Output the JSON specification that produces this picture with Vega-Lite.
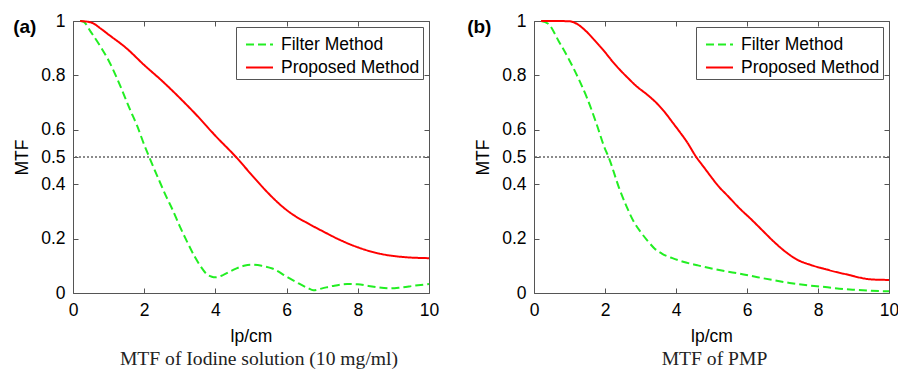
{
  "$schema": "https://vega.github.io/schema/vega-lite/v6.json",
  "padding": {"left": 13, "top": 11, "right": 0, "bottom": 0},
  "config": {
    "font": "Liberation Sans",
    "view": {"stroke": "#555", "strokeWidth": 1},
    "axis": {"domain": false, "grid": false, "labelFlush": false, "tickColor": "#555", "tickSize": -5, "labelFont": "Liberation Sans", "labelFontSize": 17.5, "labelColor": "#000", "titleFont": "Liberation Sans", "titleFontSize": 17.5, "titleFontWeight": "normal", "titleColor": "#000"},
    "legend": {"orient": "top-right", "offset": 6, "padding": 3, "fillColor": "white", "strokeColor": "#555", "symbolType": "stroke", "symbolSize": 729, "symbolOffset": 6, "symbolStrokeWidth": 2, "labelFontSize": 17.5, "labelFont": "Liberation Sans", "labelColor": "#000", "rowPadding": 0, "labelOffset": 7}
  },
  "datasets": {
    "a": [
      {"x":0.2,"y":1.0,"method":"Filter Method"},{"x":0.3,"y":0.997,"method":"Filter Method"},{"x":0.5,"y":0.96,"method":"Filter Method"},{"x":0.8,"y":0.9,"method":"Filter Method"},{"x":1.0,"y":0.855,"method":"Filter Method"},{"x":1.3,"y":0.77,"method":"Filter Method"},{"x":1.6,"y":0.675,"method":"Filter Method"},{"x":1.8,"y":0.615,"method":"Filter Method"},{"x":2.0,"y":0.545,"method":"Filter Method"},{"x":2.14,"y":0.5,"method":"Filter Method"},{"x":2.4,"y":0.42,"method":"Filter Method"},{"x":2.6,"y":0.36,"method":"Filter Method"},{"x":2.8,"y":0.305,"method":"Filter Method"},{"x":3.0,"y":0.245,"method":"Filter Method"},{"x":3.2,"y":0.19,"method":"Filter Method"},{"x":3.4,"y":0.138,"method":"Filter Method"},{"x":3.6,"y":0.095,"method":"Filter Method"},{"x":3.75,"y":0.07,"method":"Filter Method"},{"x":3.9,"y":0.06,"method":"Filter Method"},{"x":4.0,"y":0.058,"method":"Filter Method"},{"x":4.2,"y":0.065,"method":"Filter Method"},{"x":4.5,"y":0.085,"method":"Filter Method"},{"x":4.8,"y":0.1,"method":"Filter Method"},{"x":5.0,"y":0.104,"method":"Filter Method"},{"x":5.3,"y":0.1,"method":"Filter Method"},{"x":5.6,"y":0.09,"method":"Filter Method"},{"x":6.0,"y":0.06,"method":"Filter Method"},{"x":6.3,"y":0.038,"method":"Filter Method"},{"x":6.6,"y":0.018,"method":"Filter Method"},{"x":6.75,"y":0.01,"method":"Filter Method"},{"x":7.0,"y":0.017,"method":"Filter Method"},{"x":7.3,"y":0.026,"method":"Filter Method"},{"x":7.7,"y":0.033,"method":"Filter Method"},{"x":8.0,"y":0.032,"method":"Filter Method"},{"x":8.3,"y":0.026,"method":"Filter Method"},{"x":8.6,"y":0.02,"method":"Filter Method"},{"x":8.9,"y":0.017,"method":"Filter Method"},{"x":9.2,"y":0.02,"method":"Filter Method"},{"x":9.6,"y":0.027,"method":"Filter Method"},{"x":10.0,"y":0.033,"method":"Filter Method"},
      {"x":0.2,"y":1.0,"method":"Proposed Method"},{"x":0.5,"y":0.995,"method":"Proposed Method"},{"x":0.8,"y":0.97,"method":"Proposed Method"},{"x":1.0,"y":0.95,"method":"Proposed Method"},{"x":1.5,"y":0.9,"method":"Proposed Method"},{"x":2.0,"y":0.838,"method":"Proposed Method"},{"x":2.5,"y":0.78,"method":"Proposed Method"},{"x":3.0,"y":0.717,"method":"Proposed Method"},{"x":3.5,"y":0.65,"method":"Proposed Method"},{"x":4.0,"y":0.578,"method":"Proposed Method"},{"x":4.6,"y":0.497,"method":"Proposed Method"},{"x":5.0,"y":0.437,"method":"Proposed Method"},{"x":5.5,"y":0.365,"method":"Proposed Method"},{"x":5.75,"y":0.333,"method":"Proposed Method"},{"x":6.0,"y":0.305,"method":"Proposed Method"},{"x":6.25,"y":0.282,"method":"Proposed Method"},{"x":6.5,"y":0.263,"method":"Proposed Method"},{"x":7.0,"y":0.228,"method":"Proposed Method"},{"x":7.5,"y":0.195,"method":"Proposed Method"},{"x":8.0,"y":0.168,"method":"Proposed Method"},{"x":8.6,"y":0.145,"method":"Proposed Method"},{"x":9.3,"y":0.132,"method":"Proposed Method"},{"x":10.0,"y":0.128,"method":"Proposed Method"}
    ],
    "b": [
      {"x":0.2,"y":1.0,"method":"Filter Method"},{"x":0.4,"y":0.99,"method":"Filter Method"},{"x":0.7,"y":0.925,"method":"Filter Method"},{"x":1.0,"y":0.855,"method":"Filter Method"},{"x":1.3,"y":0.775,"method":"Filter Method"},{"x":1.5,"y":0.715,"method":"Filter Method"},{"x":1.75,"y":0.626,"method":"Filter Method"},{"x":2.0,"y":0.53,"method":"Filter Method"},{"x":2.1,"y":0.5,"method":"Filter Method"},{"x":2.4,"y":0.385,"method":"Filter Method"},{"x":2.6,"y":0.32,"method":"Filter Method"},{"x":2.8,"y":0.265,"method":"Filter Method"},{"x":3.0,"y":0.225,"method":"Filter Method"},{"x":3.2,"y":0.192,"method":"Filter Method"},{"x":3.4,"y":0.163,"method":"Filter Method"},{"x":3.6,"y":0.145,"method":"Filter Method"},{"x":3.9,"y":0.128,"method":"Filter Method"},{"x":4.2,"y":0.115,"method":"Filter Method"},{"x":4.6,"y":0.102,"method":"Filter Method"},{"x":5.0,"y":0.09,"method":"Filter Method"},{"x":5.4,"y":0.08,"method":"Filter Method"},{"x":5.8,"y":0.071,"method":"Filter Method"},{"x":6.3,"y":0.058,"method":"Filter Method"},{"x":6.8,"y":0.046,"method":"Filter Method"},{"x":7.2,"y":0.037,"method":"Filter Method"},{"x":7.7,"y":0.028,"method":"Filter Method"},{"x":8.2,"y":0.022,"method":"Filter Method"},{"x":8.6,"y":0.016,"method":"Filter Method"},{"x":9.0,"y":0.012,"method":"Filter Method"},{"x":9.5,"y":0.008,"method":"Filter Method"},{"x":10.0,"y":0.006,"method":"Filter Method"},
      {"x":0.2,"y":1.0,"method":"Proposed Method"},{"x":0.6,"y":1.0,"method":"Proposed Method"},{"x":1.0,"y":0.999,"method":"Proposed Method"},{"x":1.2,"y":0.99,"method":"Proposed Method"},{"x":1.47,"y":0.962,"method":"Proposed Method"},{"x":1.7,"y":0.93,"method":"Proposed Method"},{"x":1.94,"y":0.895,"method":"Proposed Method"},{"x":2.2,"y":0.853,"method":"Proposed Method"},{"x":2.41,"y":0.822,"method":"Proposed Method"},{"x":2.65,"y":0.79,"method":"Proposed Method"},{"x":2.88,"y":0.761,"method":"Proposed Method"},{"x":3.2,"y":0.728,"method":"Proposed Method"},{"x":3.44,"y":0.7,"method":"Proposed Method"},{"x":3.7,"y":0.662,"method":"Proposed Method"},{"x":3.91,"y":0.626,"method":"Proposed Method"},{"x":4.1,"y":0.593,"method":"Proposed Method"},{"x":4.29,"y":0.559,"method":"Proposed Method"},{"x":4.57,"y":0.5,"method":"Proposed Method"},{"x":4.8,"y":0.46,"method":"Proposed Method"},{"x":5.0,"y":0.425,"method":"Proposed Method"},{"x":5.2,"y":0.392,"method":"Proposed Method"},{"x":5.45,"y":0.358,"method":"Proposed Method"},{"x":5.8,"y":0.31,"method":"Proposed Method"},{"x":6.11,"y":0.272,"method":"Proposed Method"},{"x":6.45,"y":0.228,"method":"Proposed Method"},{"x":6.77,"y":0.187,"method":"Proposed Method"},{"x":7.1,"y":0.15,"method":"Proposed Method"},{"x":7.42,"y":0.122,"method":"Proposed Method"},{"x":7.8,"y":0.103,"method":"Proposed Method"},{"x":8.17,"y":0.089,"method":"Proposed Method"},{"x":8.55,"y":0.076,"method":"Proposed Method"},{"x":8.92,"y":0.065,"method":"Proposed Method"},{"x":9.2,"y":0.056,"method":"Proposed Method"},{"x":9.5,"y":0.05,"method":"Proposed Method"},{"x":10.0,"y":0.048,"method":"Proposed Method"}
    ]
  },
  "spacing": 27,
  "resolve": {"scale": {"color": "independent", "strokeDash": "independent"}, "legend": {"color": "independent", "strokeDash": "independent"}},
  "hconcat": [
    {
      "title": {"text": "(a)", "orient": "top", "anchor": "start", "frame": "bounds", "baseline": "top", "offset": -25, "font": "Liberation Sans", "fontSize": 19, "fontWeight": "bold", "color": "#000"},
      "resolve": {"scale": {"color": "independent", "strokeDash": "independent"}, "legend": {"color": "independent", "strokeDash": "independent"}},
      "vconcat": [
        {
          "width": 356, "height": 272,
          "title": {"text": "MTF of Iodine solution (10 mg/ml)", "orient": "bottom", "anchor": "middle", "frame": "group", "baseline": "top", "offset": 5, "dx": 8, "font": "Liberation Serif", "fontSize": 19.6, "fontWeight": "normal", "color": "#222"},
          "layer": [
            {
              "data": {"values": [{"level": 0.5}]},
              "mark": {"type": "rule", "strokeDash": [2, 2], "color": "#666", "strokeWidth": 1.5},
              "encoding": {"y": {"field": "level", "type": "quantitative", "scale": {"domain": [0, 1], "nice": false}, "axis": null}}
            },
            {
              "data": {"name": "a"},
              "mark": {"type": "line", "strokeWidth": 2, "interpolate": "monotone"},
              "encoding": {
                "x": {"field": "x", "type": "quantitative", "scale": {"domain": [0, 10], "nice": false}, "axis": {"orient": "bottom", "title": "lp/cm", "values": [0, 2, 4, 6, 8, 10], "labelPadding": 13.4, "titlePadding": 9}},
                "y": {"field": "y", "type": "quantitative", "scale": {"domain": [0, 1], "nice": false}, "axis": {"orient": "left", "title": "MTF", "values": [0, 0.2, 0.4, 0.5, 0.6, 0.8, 1], "format": "~g", "labelPadding": 13, "titlePadding": 9}},
                "color": {"field": "method", "type": "nominal", "scale": {"domain": ["Filter Method", "Proposed Method"], "range": ["#22ee22", "#ff0000"]}, "legend": {"title": null}},
                "strokeDash": {"field": "method", "type": "nominal", "scale": {"domain": ["Filter Method", "Proposed Method"], "range": [[8, 4], [1, 0]]}, "legend": {"title": null}}
              }
            },
            {
              "data": {"name": "a"},
              "mark": {"type": "point", "opacity": 0},
              "encoding": {
                "x": {"field": "x", "type": "quantitative", "scale": {"domain": [0, 10], "nice": false}, "axis": {"orient": "top", "labels": false, "title": null, "values": [0, 2, 4, 6, 8, 10]}},
                "y": {"field": "y", "type": "quantitative", "scale": {"domain": [0, 1], "nice": false}, "axis": {"orient": "right", "labels": false, "title": null, "values": [0, 0.2, 0.4, 0.5, 0.6, 0.8, 1]}}
              }
            }
          ],
          "resolve": {"axis": {"x": "independent", "y": "independent"}}
        }
      ]
    },
    {
      "title": {"text": "(b)", "orient": "top", "anchor": "start", "frame": "bounds", "baseline": "top", "offset": -25, "dx": -7, "font": "Liberation Sans", "fontSize": 19, "fontWeight": "bold", "color": "#000"},
      "resolve": {"scale": {"color": "independent", "strokeDash": "independent"}, "legend": {"color": "independent", "strokeDash": "independent"}},
      "vconcat": [
        {
          "width": 355, "height": 272,
          "title": {"text": "MTF of PMP", "orient": "bottom", "anchor": "middle", "frame": "group", "baseline": "top", "offset": 5, "dx": 3, "font": "Liberation Serif", "fontSize": 19.6, "fontWeight": "normal", "color": "#222"},
          "layer": [
            {
              "data": {"values": [{"level": 0.5}]},
              "mark": {"type": "rule", "strokeDash": [2, 2], "color": "#666", "strokeWidth": 1.5},
              "encoding": {"y": {"field": "level", "type": "quantitative", "scale": {"domain": [0, 1], "nice": false}, "axis": null}}
            },
            {
              "data": {"name": "b"},
              "mark": {"type": "line", "strokeWidth": 2, "interpolate": "monotone"},
              "encoding": {
                "x": {"field": "x", "type": "quantitative", "scale": {"domain": [0, 10], "nice": false}, "axis": {"orient": "bottom", "title": "lp/cm", "values": [0, 2, 4, 6, 8, 10], "labelPadding": 13.4, "titlePadding": 9}},
                "y": {"field": "y", "type": "quantitative", "scale": {"domain": [0, 1], "nice": false}, "axis": {"orient": "left", "title": "MTF", "values": [0, 0.2, 0.4, 0.5, 0.6, 0.8, 1], "format": "~g", "labelPadding": 13, "titlePadding": 9}},
                "color": {"field": "method", "type": "nominal", "scale": {"domain": ["Filter Method", "Proposed Method"], "range": ["#22ee22", "#ff0000"]}, "legend": {"title": null}},
                "strokeDash": {"field": "method", "type": "nominal", "scale": {"domain": ["Filter Method", "Proposed Method"], "range": [[8, 4], [1, 0]]}, "legend": {"title": null}}
              }
            },
            {
              "data": {"name": "b"},
              "mark": {"type": "point", "opacity": 0},
              "encoding": {
                "x": {"field": "x", "type": "quantitative", "scale": {"domain": [0, 10], "nice": false}, "axis": {"orient": "top", "labels": false, "title": null, "values": [0, 2, 4, 6, 8, 10]}},
                "y": {"field": "y", "type": "quantitative", "scale": {"domain": [0, 1], "nice": false}, "axis": {"orient": "right", "labels": false, "title": null, "values": [0, 0.2, 0.4, 0.5, 0.6, 0.8, 1]}}
              }
            }
          ],
          "resolve": {"axis": {"x": "independent", "y": "independent"}}
        }
      ]
    }
  ]
}
